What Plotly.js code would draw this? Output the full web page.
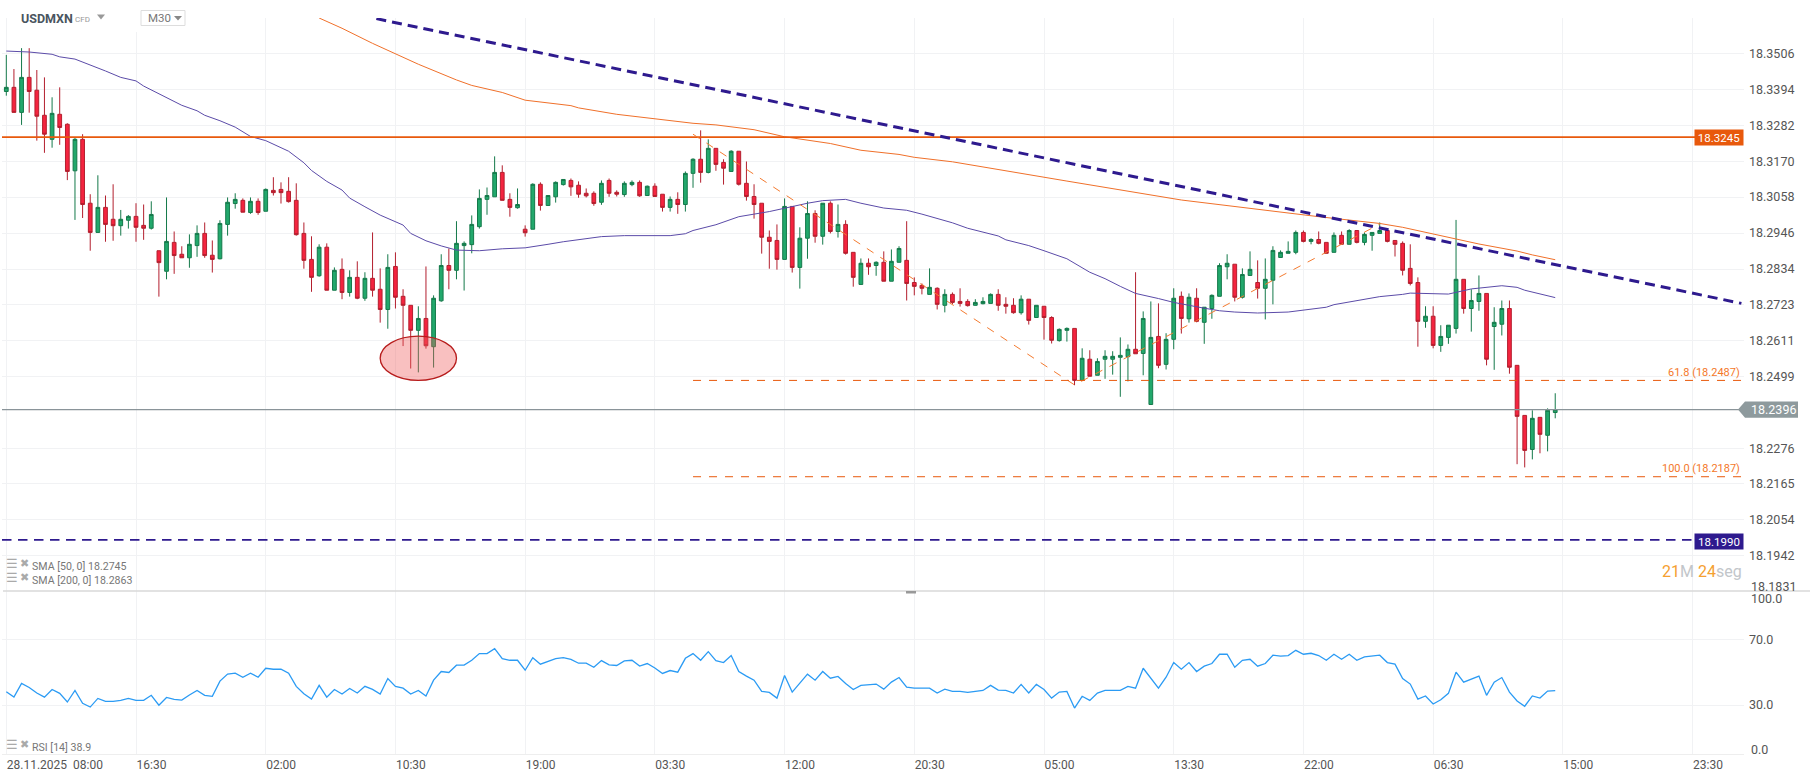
<!DOCTYPE html>
<html><head><meta charset="utf-8">
<script src="https://cdn.plot.ly/plotly-3.0.1.min.js"></script>
<style>html,body{margin:0;padding:0;background:#fff}#c{width:1810px;height:779px}</style></head>
<body><div id="c"></div>
<script>
const opens=[18.3387,18.3400,18.3322,18.3431,18.3391,18.3313,18.3238,18.3316,18.3285,18.3140,
18.3238,18.3039,18.2948,18.3026,18.2989,18.2969,18.2986,18.2998,18.2970,18.2961,
18.2891,18.2827,18.2917,18.2880,18.2869,18.2907,18.2945,18.2877,18.2866,18.2973,
18.3038,18.3048,18.3010,18.3045,18.3014,18.3079,18.3082,18.3076,18.3048,18.2945,
18.2864,18.2813,18.2902,18.2768,18.2833,18.2761,18.2808,18.2743,18.2805,18.2771,
18.2708,18.2842,18.2749,18.2721,18.2643,18.2680,18.2592,18.2735,18.2845,18.2830,
18.2907,18.2910,18.2966,18.3051,18.3059,18.3135,18.3051,18.3025,18.2958,18.2958,
18.3098,18.3032,18.3059,18.3097,18.3110,18.3095,18.3070,18.3070,18.3042,18.3110,
18.3073,18.3066,18.3097,18.3104,18.3063,18.3092,18.3067,18.3026,18.3051,18.3035,
18.3132,18.3176,18.3135,18.3210,18.3166,18.3138,18.3201,18.3101,18.3060,18.3039,
18.2933,18.2923,18.2864,18.3029,18.2839,18.2930,18.3007,18.2936,18.3039,18.2951,
18.2973,18.2886,18.2786,18.2852,18.2845,18.2855,18.2796,18.2855,18.2861,18.2792,
18.2783,18.2755,18.2774,18.2721,18.2755,18.2733,18.2733,18.2721,18.2726,18.2727,
18.2755,18.2724,18.2721,18.2698,18.2740,18.2683,18.2718,18.2683,18.2611,18.2643,
18.2649,18.2487,18.2553,18.2503,18.2553,18.2553,18.2559,18.2561,18.2584,18.2571,
18.2412,18.2624,18.2537,18.2615,18.2749,18.2679,18.2743,18.2668,18.2711,18.2749,
18.2841,18.2849,18.2746,18.2814,18.2792,18.2774,18.2799,18.2870,18.2883,18.2886,
18.2948,18.2920,18.2926,18.2917,18.2886,18.2939,18.2911,18.2954,18.2917,18.2939,
18.2945,18.2954,18.2923,18.2914,18.2836,18.2792,18.2671,18.2687,18.2596,18.2621,
18.2649,18.2802,18.2711,18.2733,18.2758,18.2655,18.2662,18.2711,18.2534,18.2378,
18.2272,18.2372,18.2316,18.2387];
const highs=[18.3501,18.3457,18.3522,18.3522,18.3454,18.3431,18.3369,18.3400,18.3288,18.3244,
18.3254,18.3067,18.3126,18.3063,18.3098,18.3018,18.3002,18.3039,18.3035,18.3045,
18.2891,18.3057,18.2951,18.2905,18.2942,18.2970,18.2979,18.2923,18.2986,18.3057,
18.3070,18.3054,18.3057,18.3054,18.3085,18.3120,18.3104,18.3120,18.3101,18.2979,
18.2936,18.2911,18.2914,18.2839,18.2867,18.2830,18.2858,18.2824,18.2948,18.2836,
18.2880,18.2886,18.2771,18.2721,18.2718,18.2842,18.2752,18.2880,18.2898,18.2983,
18.2920,18.3001,18.3082,18.3088,18.3185,18.3157,18.3070,18.3085,18.2970,18.3101,
18.3104,18.3063,18.3107,18.3113,18.3116,18.3107,18.3085,18.3076,18.3110,18.3116,
18.3079,18.3107,18.3110,18.3110,18.3094,18.3101,18.3067,18.3060,18.3073,18.3138,
18.3179,18.3266,18.3238,18.3210,18.3176,18.3204,18.3201,18.3169,18.3098,18.3039,
18.2954,18.2973,18.3054,18.3029,18.2964,18.3045,18.3017,18.3039,18.3045,18.3035,
18.2986,18.2886,18.2867,18.2867,18.2858,18.2889,18.2895,18.2905,18.2983,18.2808,
18.2789,18.2836,18.2777,18.2771,18.2761,18.2774,18.2740,18.2740,18.2746,18.2758,
18.2771,18.2746,18.2743,18.2752,18.2740,18.2721,18.2718,18.2687,18.2649,18.2652,
18.2649,18.2587,18.2581,18.2556,18.2581,18.2578,18.2621,18.2599,18.2824,18.2702,
18.2733,18.2727,18.2634,18.2774,18.2764,18.2758,18.2774,18.2715,18.2755,18.2852,
18.2880,18.2849,18.2836,18.2889,18.2861,18.2867,18.2905,18.2892,18.2920,18.2954,
18.2954,18.2930,18.2951,18.2917,18.2948,18.2951,18.2958,18.2954,18.2948,18.2948,
18.2979,18.2954,18.2923,18.2920,18.2911,18.2808,18.2718,18.2718,18.2659,18.2659,
18.2987,18.2802,18.2771,18.2814,18.2758,18.2715,18.2736,18.2736,18.2534,18.2378,
18.2394,18.2372,18.2400,18.2447];
const lows=[18.3374,18.3322,18.3283,18.3321,18.3234,18.3196,18.3212,18.3221,18.3111,18.2987,
18.2993,18.2891,18.2948,18.2919,18.2922,18.2938,18.2960,18.2919,18.2925,18.2957,
18.2748,18.2802,18.2819,18.2869,18.2838,18.2872,18.2869,18.2823,18.2864,18.2938,
18.3022,18.3011,18.3006,18.3003,18.3014,18.3063,18.3038,18.3041,18.2938,18.2835,
18.2763,18.2810,18.2768,18.2768,18.2740,18.2748,18.2740,18.2735,18.2748,18.2667,
18.2648,18.2711,18.2594,18.2524,18.2512,18.2586,18.2527,18.2732,18.2771,18.2802,
18.2767,18.2883,18.2960,18.3003,18.3059,18.3048,18.2997,18.3022,18.2935,18.2958,
18.3016,18.3032,18.3041,18.3094,18.3062,18.3056,18.3057,18.3031,18.3034,18.3059,
18.3060,18.3059,18.3092,18.3059,18.3062,18.3060,18.3013,18.3013,18.3006,18.3013,
18.3087,18.3103,18.3132,18.3140,18.3097,18.3138,18.3094,18.3047,18.2991,18.2882,
18.2835,18.2832,18.2864,18.2823,18.2773,18.2866,18.2916,18.2910,18.2945,18.2932,
18.2879,18.2779,18.2786,18.2816,18.2813,18.2796,18.2796,18.2855,18.2736,18.2752,
18.2755,18.2755,18.2708,18.2699,18.2725,18.2717,18.2717,18.2720,18.2724,18.2727,
18.2704,18.2695,18.2695,18.2692,18.2661,18.2683,18.2614,18.2602,18.2608,18.2608,
18.2472,18.2487,18.2500,18.2503,18.2492,18.2505,18.2436,18.2484,18.2570,18.2503,
18.2412,18.2525,18.2521,18.2584,18.2633,18.2667,18.2668,18.2601,18.2679,18.2749,
18.2802,18.2733,18.2742,18.2814,18.2742,18.2677,18.2724,18.2870,18.2883,18.2880,
18.2917,18.2911,18.2911,18.2883,18.2886,18.2911,18.2911,18.2914,18.2908,18.2891,
18.2945,18.2917,18.2873,18.2814,18.2783,18.2592,18.2651,18.2587,18.2576,18.2601,
18.2633,18.2695,18.2639,18.2704,18.2534,18.2520,18.2627,18.2508,18.2226,18.2216,
18.2241,18.2260,18.2266,18.2369];
const closes=[18.3400,18.3322,18.3431,18.3387,18.3310,18.3254,18.3319,18.3275,18.3138,18.3238,
18.3035,18.2948,18.3026,18.2973,18.2969,18.2989,18.2998,18.2964,18.2961,18.3004,
18.2854,18.2920,18.2876,18.2869,18.2911,18.2945,18.2876,18.2864,18.2976,18.3042,
18.3051,18.3011,18.3045,18.3010,18.3082,18.3072,18.3072,18.3044,18.2941,18.2861,
18.2808,18.2902,18.2768,18.2830,18.2761,18.2808,18.2743,18.2805,18.2768,18.2708,
18.2839,18.2746,18.2721,18.2643,18.2680,18.2595,18.2743,18.2845,18.2830,18.2914,
18.2914,18.2973,18.3054,18.3063,18.3135,18.3048,18.3026,18.3035,18.2947,18.3098,
18.3032,18.3063,18.3104,18.3113,18.3090,18.3067,18.3062,18.3038,18.3101,18.3070,
18.3067,18.3101,18.3104,18.3062,18.3092,18.3060,18.3026,18.3051,18.3035,18.3132,
18.3176,18.3135,18.3210,18.3160,18.3148,18.3201,18.3098,18.3060,18.3035,18.2933,
18.2920,18.2864,18.3029,18.2839,18.2930,18.3007,18.2936,18.3039,18.2951,18.2973,
18.2883,18.2808,18.2852,18.2841,18.2855,18.2796,18.2858,18.2898,18.2789,18.2780,
18.2774,18.2777,18.2724,18.2755,18.2730,18.2727,18.2720,18.2730,18.2733,18.2755,
18.2721,18.2718,18.2698,18.2740,18.2674,18.2721,18.2683,18.2612,18.2646,18.2649,
18.2487,18.2556,18.2500,18.2546,18.2562,18.2562,18.2565,18.2584,18.2570,18.2680,
18.2621,18.2534,18.2615,18.2743,18.2680,18.2746,18.2671,18.2715,18.2752,18.2845,
18.2852,18.2746,18.2817,18.2833,18.2774,18.2802,18.2892,18.2886,18.2889,18.2948,
18.2920,18.2926,18.2914,18.2883,18.2939,18.2911,18.2954,18.2917,18.2942,18.2948,
18.2954,18.2920,18.2911,18.2830,18.2789,18.2671,18.2687,18.2596,18.2624,18.2659,
18.2802,18.2711,18.2736,18.2758,18.2553,18.2668,18.2711,18.2528,18.2375,18.2269,
18.2369,18.2319,18.2394,18.2396];
const sma50Bars=[0,3,6,7,9,11,12,13,15,17,18,19,21,23,25,26,28,30,32,34,37,39,40,42,44,45,47,49,52,53,55,57,59,62,65,68,71,73,78,81,87,89,90,93,96,100,105,107,110,112,115,118,120,124,126,130,131,134,136,139,142,144,146,148,151,153,157,159,161,164,168,173,174,177,180,183,184,189,192,196,198,199,203];
const sma50Values=[18.3513,18.3510,18.3503,18.3495,18.3488,18.3470,18.3461,18.3451,18.3431,18.3420,18.3404,18.3392,18.3369,18.3344,18.3327,18.3313,18.3296,18.3276,18.3247,18.3234,18.3201,18.3165,18.3141,18.3107,18.3080,18.3055,18.3028,18.3002,18.2971,18.2945,18.2922,18.2906,18.2893,18.2891,18.2897,18.2900,18.2911,18.2919,18.2935,18.2938,18.2938,18.2944,18.2954,18.2972,18.2997,18.3013,18.3039,18.3047,18.3051,18.3039,18.3024,18.3017,18.3005,18.2978,18.2961,18.2937,18.2925,18.2907,18.2891,18.2866,18.2824,18.2804,18.2780,18.2758,18.2742,18.2730,18.2712,18.2704,18.2700,18.2697,18.2700,18.2715,18.2723,18.2736,18.2748,18.2755,18.2759,18.2756,18.2772,18.2782,18.2777,18.2768,18.2745];
const sma200Bars=[41,44,48,50,54,59,61,65,68,74,75,80,89,90,93,98,102,108,112,117,119,124,139,154,172,180,183,184,190,193,198,200,203];
const sma200Values=[18.3616,18.3584,18.3537,18.3516,18.3472,18.3423,18.3406,18.3384,18.3360,18.3343,18.3336,18.3316,18.3290,18.3288,18.3283,18.3268,18.3246,18.3225,18.3204,18.3191,18.3182,18.3168,18.3108,18.3049,18.2997,18.2976,18.2964,18.2959,18.2927,18.2912,18.2890,18.2878,18.2863];
const rsiValues=[38.2,34.9,43.3,40.8,37.4,34.9,39.6,37.2,31.9,39.0,31.1,28.8,34.1,32.3,32.3,32.9,34.1,32.9,32.9,36.0,
29.9,34.7,33.5,33.1,36.2,39.0,36.0,35.4,44.7,49.0,49.6,47.1,49.6,47.1,52.6,52.0,52.0,49.6,41.5,37.0,
33.7,42.1,34.9,39.6,36.8,40.2,37.4,41.5,39.6,36.8,46.3,41.5,40.4,36.8,39.0,35.6,45.3,50.6,50.0,54.5,
54.5,57.5,61.6,61.6,64.6,58.5,57.5,57.5,51.4,59.1,55.1,56.7,58.5,59.1,58.1,55.7,55.7,53.2,57.3,54.7,
54.3,57.1,57.5,53.9,55.5,52.8,49.4,51.2,50.2,58.7,61.6,57.5,62.8,57.3,56.1,60.4,50.6,47.8,45.3,38.4,
37.8,34.3,48.2,38.0,43.5,49.0,45.3,50.6,46.5,47.6,43.3,39.6,42.1,42.3,42.9,39.8,44.1,46.9,41.0,40.4,
40.4,40.4,37.4,39.8,38.4,38.4,37.8,38.4,39.0,42.1,39.2,39.0,37.4,42.7,37.4,42.7,39.6,34.3,38.0,38.4,
28.2,35.4,32.9,37.4,39.0,39.0,39.0,41.5,40.4,52.6,46.5,40.4,47.1,56.1,52.0,56.1,50.6,53.9,55.5,61.2,
61.2,53.2,57.5,58.1,53.9,55.5,60.6,60.0,60.4,63.6,61.2,61.8,60.4,57.5,61.2,58.1,61.2,57.5,59.6,60.0,
60.6,56.1,55.1,46.3,42.9,33.7,35.6,30.7,33.3,37.2,50.2,44.1,45.9,47.8,36.0,44.1,46.9,38.0,32.5,29.3,
35.6,34.3,38.6,38.9];
const priceTicks=[18.3506,18.3394,18.3282,18.3170,18.3058,18.2946,18.2834,18.2723,18.2611,18.2499,18.2276,18.2165,18.2054,18.1942];
const rsiTicks=[70,30];
const timeTickBars=[0,17,34,51,68,85,102,119,136,153,170,187,204,221];
const timeTickLabels=["28.11.2025  08:00","16:30","02:00","10:30","19:00","03:30","12:00","20:30","05:00","13:30","22:00","06:30","15:00","23:30"];
const trendBars=[48.5,227.4], trendPrices=[18.3614,18.2727];
const zigzagBars=[90,140,180], zigzagPrices=[18.3254,18.2473,18.2974];
const resistance=18.3245, support=18.1990, lastPrice=18.2396, fib618=18.2487, fib100=18.2187;

const W=1810,H=779,FONT='Roboto, sans-serif';
const px=x=>x/W, py=y=>1-y/H;
const bars=opens.map((_,i)=>i);
const R0=-0.5636,R1=227.74;
const fullX=[R0,R1];
const traces=[
 {type:'candlestick',x:bars,open:opens,high:highs,low:lows,close:closes,xaxis:'x',yaxis:'y',whiskerwidth:0,
  increasing:{line:{color:'#14794A',width:1},fillcolor:'#22A86C'},
  decreasing:{line:{color:'#B31F2E',width:1},fillcolor:'#F4243F'},hoverinfo:'skip',showlegend:false},
 {type:'scatter',mode:'lines',x:sma50Bars,y:sma50Values,line:{color:'#5B4BA8',width:1},hoverinfo:'skip'},
 {type:'scatter',mode:'lines',x:sma200Bars,y:sma200Values,line:{color:'#F0702A',width:1},hoverinfo:'skip'},
 {type:'scatter',mode:'lines',x:fullX,y:[lastPrice,lastPrice],line:{color:'#8A9499',width:1.4},hoverinfo:'skip'},
 {type:'scatter',mode:'lines',x:[R0,222],y:[resistance,resistance],line:{color:'#E8590C',width:1.9},hoverinfo:'skip'},
 {type:'scatter',mode:'lines',x:[R0,222],y:[support,support],line:{color:'#2E1A8E',width:1.7,dash:'9.5px,6.5px'},hoverinfo:'skip'},
 {type:'scatter',mode:'lines',x:trendBars,y:trendPrices,line:{color:'#2E1A8E',width:3,dash:'10px,6px'},hoverinfo:'skip'},
 {type:'scatter',mode:'lines',x:zigzagBars,y:zigzagPrices,line:{color:'#F47B30',width:1,dash:'8px,8px'},hoverinfo:'skip'},
 {type:'scatter',mode:'lines',x:[90,227.4],y:[fib618,fib618],line:{color:'#E8590C',width:1,dash:'8px,8px'},hoverinfo:'skip'},
 {type:'scatter',mode:'lines',x:[90,227.4],y:[fib100,fib100],line:{color:'#E8590C',width:1,dash:'8px,8px'},hoverinfo:'skip'},
 {type:'scatter',mode:'lines',x:bars,y:rsiValues,xaxis:'x2',yaxis:'y2',line:{color:'#2B9BF4',width:1.3},hoverinfo:'skip'}
];
const txt=(text,x,y,opt={})=>Object.assign({text,x:px(x),y:py(y),xref:'paper',yref:'paper',showarrow:false,xanchor:'left',yanchor:'middle',
  font:{family:FONT,size:12.5,color:'#555'},borderpad:0},opt);
const gray={family:FONT,size:10.6,color:'#777'};
const hamb={family:'DejaVu Sans',size:13,color:'#AAA'};
const cross={family:'DejaVu Sans',size:11,color:'#AAA'};
const annotations=[
 txt('<b>USDMXN</b>',20,18,{font:{family:FONT,size:12.5,color:'#4A5560'}}),
 txt('CFD',73.5,19,{font:{family:FONT,size:8,color:'#999'}}),
 txt('M30',147,18,{font:{family:FONT,size:11.5,color:'#777'}}),
 txt('SMA [50, 0] 18.2745',31,566.5,{font:gray}),
 txt('SMA [200, 0] 18.2863',31,580.5,{font:gray}),
 txt('RSI [14] 38.9',31,747,{font:gray}),
 txt('☰',5,563.5,{font:hamb}),txt('✖',19,563.5,{font:cross}),
 txt('☰',5,577.5,{font:hamb}),txt('✖',19,577.5,{font:cross}),
 txt('☰',5,744.5,{font:hamb}),txt('✖',19,744.5,{font:cross}),
 txt('18.1831',1750,586),
 txt('100.0',1750,598),
 txt('0.0',1750,749),
 txt('18.3245',1744,137.3,{xanchor:'right',bgcolor:'#E8590C',width:48,height:15,align:'center',font:{family:FONT,size:11.5,color:'#fff'}}),
 txt('18.1990',1744,541,{xanchor:'right',bgcolor:'#2E1A8E',width:48,height:15,align:'center',font:{family:FONT,size:11.5,color:'#fff'}}),
 txt('18.2396',1750,409.6,{font:{family:FONT,size:12.5,color:'#fff'}}),
 txt('61.8 (18.2487)',1741,372,{xanchor:'right',font:{family:FONT,size:11,color:'#F4782A'}}),
 txt('100.0 (18.2187)',1741,468,{xanchor:'right',font:{family:FONT,size:11,color:'#F4782A'}}),
 txt('<span style="color:#F5A030">21</span><span style="color:#C2C6CA">M </span><span style="color:#F5A030">24</span><span style="color:#C2C6CA">seg</span>',1743,571,{xanchor:'right',font:{family:FONT,size:16,color:'#C2C6CA'}})
];
const pap=(d,line,fill)=>({type:'path',xref:'paper',yref:'paper',path:d,line:line||{width:0},fillcolor:fill||'rgba(0,0,0,0)',layer:'above'});
const tri=(x0,x1,y0,y1,c)=>pap(`M${px(x0)},${py(y0)}L${px(x1)},${py(y0)}L${px((x0+x1)/2)},${py(y1)}Z`,null,c);
const shapes=[
 {type:'circle',xref:'x',yref:'y',x0:49,x1:59,y0:18.2487,y1:18.2625,fillcolor:'rgba(240,90,90,0.38)',line:{color:'#B71C1C',width:1.3},layer:'above'},
 pap(`M${px(1738)},${py(409.6)}L${px(1745)},${py(401.5)}L${px(1798)},${py(401.5)}L${px(1798)},${py(417.8)}L${px(1745)},${py(417.8)}Z`,null,'#8E9A9D'),
 {type:'line',xref:'paper',yref:'paper',x0:px(3),x1:1,y0:py(591),y1:py(591),line:{color:'#D8D8D8',width:1.5},layer:'above'},
 {type:'rect',xref:'paper',yref:'paper',x0:px(906),x1:px(916),y0:py(591),y1:py(593.5),fillcolor:'#999',line:{width:0},layer:'above'},
 {type:'rect',xref:'paper',yref:'paper',x0:px(128),x1:px(140),y0:py(17),y1:py(32),fillcolor:'#fff',line:{width:0},layer:'above'},
 {type:'rect',xref:'paper',yref:'paper',x0:px(141),x1:px(185),y0:py(10.5),y1:py(25.5),fillcolor:'#fff',line:{color:'#DDDDDD',width:1},layer:'above'},
 tri(97,105,14.5,19.5,'#999'),tri(174,182,16,20.5,'#888')
];
const grid='#F1F2F4';
const layout={width:W,height:H,margin:{l:0,r:0,t:0,b:0},paper_bgcolor:'#fff',plot_bgcolor:'#fff',showlegend:false,hovermode:false,
 font:{family:FONT,size:12,color:'#555'},
 xaxis:{domain:[px(2),px(1744)],range:[R0,R1],anchor:'y',rangeslider:{visible:false},tickmode:'array',tickvals:timeTickBars,ticktext:timeTickLabels,showticklabels:false,ticks:'',showgrid:true,gridcolor:grid,gridwidth:1,zeroline:false,showline:false},
 yaxis:{domain:[py(591),py(18)],range:[18.1831,18.3616],side:'right',anchor:'x',tickmode:'array',tickvals:priceTicks,tickformat:'.4f',ticks:'',ticklabelstandoff:4,showgrid:true,gridcolor:grid,gridwidth:1,zeroline:false,showline:false,tickfont:{family:FONT,size:12.5,color:'#555'}},
 xaxis2:{domain:[px(2),px(1744)],range:[R0,R1],anchor:'y2',tickmode:'array',tickvals:timeTickBars,ticktext:timeTickLabels,ticks:'',ticklabelposition:'outside right',showgrid:true,gridcolor:grid,gridwidth:1,zeroline:false,showline:true,linecolor:'#EEEEEE',linewidth:1,tickangle:0,tickfont:{family:FONT,size:12,color:'#555'}},
 yaxis2:{domain:[py(754),py(591)],range:[0,100],side:'right',anchor:'x2',tickmode:'array',tickvals:rsiTicks,tickformat:'.1f',ticks:'',ticklabelstandoff:4,showgrid:true,gridcolor:grid,gridwidth:1,zeroline:false,showline:false,tickfont:{family:FONT,size:12.5,color:'#555'}},
 annotations,shapes};
Plotly.newPlot('c',traces,layout,{displayModeBar:false,staticPlot:true});
</script></body></html>
